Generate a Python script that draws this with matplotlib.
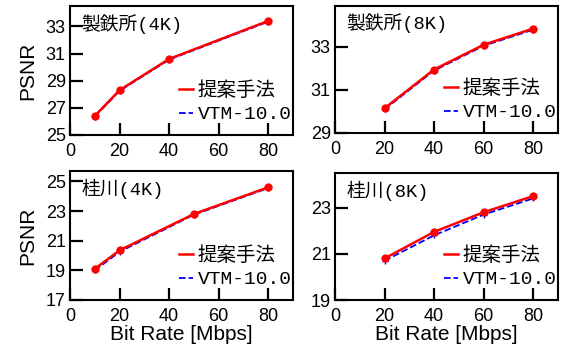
import matplotlib
matplotlib.use("Agg")
import matplotlib.pyplot as plt

plt.rcParams['font.family'] = ['Liberation Sans', 'Noto Sans CJK JP', 'DejaVu Sans']

# data
titles = ['製鉄所(4K)', '製鉄所(8K)', '桂川(4K)', '桂川(8K)']
rates = [[10, 20, 40, 80], [20, 40, 60, 80], [10, 20, 50, 80], [20, 40, 60, 80]]
psnr_prop = [[26.4, 28.3, 30.6, 33.4],
             [30.15, 31.95, 33.1, 33.85],
             [19.1, 20.35, 22.8, 24.6],
             [20.8, 21.95, 22.8, 23.5]]
psnr_vtm = [[26.35, 28.25, 30.55, 33.35],
            [30.1, 31.9, 33.05, 33.8],
            [19.0, 20.25, 22.75, 24.55],
            [20.7, 21.8, 22.7, 23.4]]
ylims = [(25, 34.5), (29, 34.9), (17, 25.7), (19, 24.5)]
yticks = [[25, 27, 29, 31, 33], [29, 31, 33], [17, 19, 21, 23, 25], [19, 21, 23]]
xticks = [0, 20, 40, 60, 80]

fig = plt.figure(figsize=(5.64, 3.45), dpi=100)
# axes boxes in pixels: left, top, right, bottom
boxes = [(70, 6, 293, 135), (335, 6, 558, 133), (70, 171, 293, 300), (335, 173, 558, 300)]
W, H = 564, 345

jp = ['Liberation Mono', 'Noto Sans CJK JP']

for i in range(4):
    l, t, r, b = boxes[i]
    ax = fig.add_axes([l / W, 1 - b / H, (r - l) / W, (b - t) / H])
    ax.plot(rates[i], psnr_vtm[i], '--', color='blue', lw=1.3, marker='+', ms=5, label='VTM-10.0', zorder=2)
    ax.plot(rates[i], psnr_prop[i], '-', color='red', lw=1.8, marker='o', ms=5, label='提案手法', zorder=3)
    ax.set_xlim(0, 90)
    ax.set_ylim(*ylims[i])
    ax.set_xticks(xticks)
    ax.set_yticks(yticks[i])
    ax.tick_params(direction='in', length=9, width=1.6, labelsize=13)
    ax.tick_params(axis='x', pad=6)
    ax.tick_params(axis='y', pad=3)
    for s in ax.spines.values():
        s.set_linewidth(1.5)
    ax.text(0.05, 0.94, titles[i], transform=ax.transAxes, ha='left', va='top',
            fontsize=13.5, family=jp)
    h, lab = ax.get_legend_handles_labels()
    ax.legend(h[::-1], lab[::-1], loc='lower right', bbox_to_anchor=(1.03, 0.03),
              frameon=False, handlelength=0.7,
              handletextpad=0.25, borderaxespad=0.0, borderpad=0.4, labelspacing=0.3,
              prop={'family': jp, 'size': 14}, markerscale=0)
    if i % 2 == 0:
        ax.set_ylabel('PSNR', fontsize=15, labelpad=6)
    if i >= 2:
        ax.set_xlabel('Bit Rate [Mbps]', fontsize=15, labelpad=0)

fig.savefig('out.png', dpi=100)
